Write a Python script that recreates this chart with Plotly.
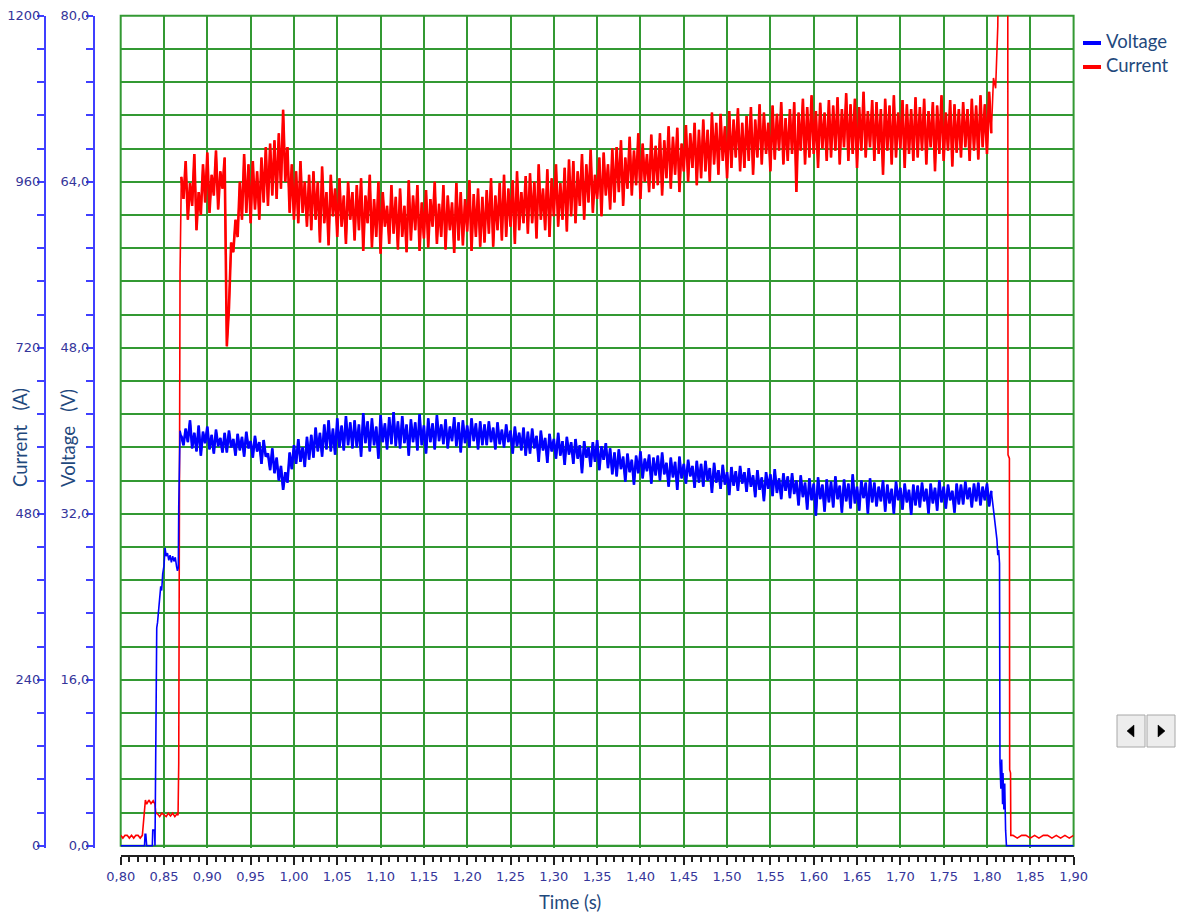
import plotly.graph_objects as go

W, H = 1179, 914


def px(x):
    return x / W


def py(y):
    return 1 - y / H


# ---------------- data ----------------
# start-up (before the arc is established)
voltage_pre_t = [0.800, 0.8275, 0.8281, 0.8290, 0.8300, 0.8365, 0.8370, 0.8390, 0.8396, 0.8404,
                 0.8416, 0.8425, 0.8434, 0.8446, 0.8455, 0.8462, 0.8473, 0.8485, 0.8500, 0.8512,
                 0.8525, 0.8540, 0.8555, 0.8570, 0.8585, 0.8600, 0.8615, 0.8630, 0.8645, 0.8655,
                 0.8665, 0.8670, 0.8685]
voltage_pre_v = [0.0, 0.0, 1.1, 1.1, 0.0, 0.0, 1.5, 1.5, 0.0, 11.9,
                 21.0, 21.5, 22.4, 23.6, 23.8, 25.0, 24.6, 26.2, 27.0, 28.7,
                 27.9, 28.2, 27.5, 28.0, 27.3, 27.9, 27.4, 27.8, 26.9, 26.5,
                 26.8, 32.6, 40.0]

current_pre_t = [0.800, 0.8025, 0.805, 0.8075, 0.810, 0.8125, 0.815, 0.8175, 0.820, 0.8225,
                 0.825, 0.8262, 0.8275, 0.8285, 0.830, 0.8325, 0.835, 0.8375, 0.8395, 0.8405,
                 0.8425, 0.845, 0.8475, 0.850, 0.8525, 0.855, 0.8575, 0.860, 0.8625, 0.865,
                 0.8662, 0.8670, 0.8685]
current_pre_i = [15, 11, 15, 15, 11, 15, 11, 15, 15, 11,
                 15, 36, 62, 66, 60, 66, 61, 65, 60, 47,
                 46, 42, 47, 45, 42, 47, 43, 47, 42, 46,
                 44, 120, 828]

# welding phase, sampled every 2.5 ms from 0.870 s (one row = 50 ms)
SAMPLE_T0 = 0.870
SAMPLE_DT = 0.0025

voltage_rows = [
    [39.5, 38.6, 40.2, 38.9, 41.0, 38.3, 39.8, 38.0, 40.5, 37.6, 39.9, 38.8, 40.4, 38.2, 39.6, 37.8, 40.1, 38.5, 39.3, 37.9],
    [39.8, 37.9, 40.0, 38.4, 39.2, 37.6, 39.7, 38.1, 39.4, 37.5, 39.9, 38.3, 39.0, 37.4, 39.5, 38.0, 38.9, 36.8, 39.1, 37.5],
    [37.8, 36.2, 38.3, 35.9, 37.4, 35.2, 36.6, 34.3, 36.0, 35.0, 37.9, 36.3, 38.6, 36.8, 39.2, 37.0, 38.4, 36.5, 39.4, 37.2],
    [39.6, 37.4, 40.3, 38.0, 39.8, 37.5, 40.6, 38.2, 41.0, 38.0, 40.2, 37.7, 41.2, 38.4, 40.5, 38.1, 41.4, 38.6, 40.8, 38.3],
    [41.0, 38.4, 40.6, 37.5, 41.7, 38.8, 40.9, 38.0, 41.2, 38.6, 40.4, 37.3, 41.5, 38.9, 40.7, 38.2, 41.3, 38.7, 41.8, 38.5],
    [40.9, 38.3, 41.4, 38.8, 40.6, 37.6, 41.1, 38.9, 40.8, 38.1, 41.6, 38.6, 40.5, 37.8, 41.2, 38.9, 40.7, 38.2, 41.5, 39.0],
    [40.6, 38.7, 41.1, 38.3, 40.4, 39.0, 41.3, 38.5, 40.8, 37.9, 41.0, 38.8, 40.5, 38.4, 41.2, 39.0, 40.7, 38.2, 40.9, 38.6],
    [40.6, 38.6, 40.9, 38.9, 40.3, 38.2, 40.8, 38.7, 40.1, 38.4, 40.6, 38.9, 40.0, 37.8, 40.4, 38.5, 39.8, 38.1, 40.3, 37.6],
    [39.9, 37.8, 40.2, 38.3, 39.5, 37.0, 40.0, 38.1, 39.3, 36.9, 39.7, 38.0, 39.2, 37.3, 39.8, 37.6, 39.0, 36.7, 39.4, 37.7],
    [38.9, 36.8, 39.2, 37.3, 38.6, 35.9, 39.0, 37.4, 38.4, 36.5, 38.9, 37.0, 39.1, 36.2, 38.5, 37.2, 38.8, 36.4, 38.3, 35.8],
    [37.9, 35.6, 38.2, 36.3, 37.5, 35.1, 37.8, 36.0, 37.2, 34.8, 37.6, 35.9, 38.0, 35.4, 37.3, 36.1, 37.7, 34.9, 37.4, 35.7],
    [37.6, 35.2, 37.9, 35.8, 36.9, 34.6, 37.4, 35.5, 37.0, 34.3, 37.5, 35.4, 36.8, 34.9, 37.2, 35.6, 36.6, 34.5, 37.1, 35.0],
    [36.8, 34.6, 37.1, 35.2, 36.4, 34.0, 36.9, 35.0, 36.2, 34.4, 36.7, 34.8, 36.0, 33.8, 36.5, 34.7, 36.1, 34.2, 36.6, 34.9],
    [36.0, 34.1, 36.4, 34.6, 35.7, 33.6, 36.2, 34.3, 35.5, 33.2, 36.0, 34.4, 35.8, 33.7, 36.3, 34.0, 35.4, 33.4, 35.9, 34.2],
    [35.6, 33.5, 35.9, 33.9, 35.2, 32.8, 35.7, 33.6, 35.0, 32.4, 35.4, 33.3, 34.9, 31.8, 35.5, 33.4, 34.8, 32.2, 35.3, 33.1],
    [35.1, 32.6, 35.6, 33.4, 34.7, 32.1, 35.3, 33.2, 34.9, 32.5, 35.8, 33.0, 34.6, 32.3, 35.2, 33.5, 35.0, 32.0, 35.4, 33.1],
    [35.0, 32.7, 34.6, 33.2, 35.2, 32.2, 34.8, 33.0, 34.4, 32.0, 35.1, 33.3, 34.5, 32.4, 34.9, 33.1, 34.3, 31.9, 34.8, 32.8],
    [34.7, 32.6, 35.0, 33.2, 34.4, 32.0, 34.9, 33.0, 34.5, 32.3, 35.2, 33.1, 34.6, 32.5, 34.8, 33.3, 34.2, 32.1, 34.9, 32.9],
    [34.8, 32.9, 35.1, 33.4, 34.5, 32.6, 34.9, 33.2, 35.0, 32.8, 34.6, 33.3, 34.9, 32.7, 34.2],
]

current_rows = [
    [967, 935, 990, 905, 958, 925, 1000, 890, 945, 912, 985, 930, 1002, 915, 970, 940, 1005, 920, 975, 950],
    [995, 722, 778, 872, 858, 905, 880, 960, 905, 1000, 915, 985, 900, 990, 920, 975, 905, 995, 930, 1010],
    [925, 1015, 940, 1020, 935, 1030, 950, 1064, 960, 1010, 915, 985, 905, 975, 900, 990, 915, 960, 895, 970],
    [890, 975, 905, 960, 872, 982, 900, 945, 868, 970, 910, 950, 880, 965, 895, 940, 870, 960, 905, 945],
    [875, 955, 890, 965, 860, 940, 900, 970, 865, 935, 880, 960, 856, 945, 895, 925, 870, 955, 885, 938],
    [862, 950, 880, 925, 858, 962, 875, 940, 890, 955, 860, 930, 878, 948, 865, 935, 895, 960, 870, 928],
    [880, 955, 862, 940, 890, 930, 857, 958, 875, 945, 868, 935, 888, 962, 860, 942, 880, 950, 866, 938],
    [872, 948, 885, 965, 866, 940, 890, 958, 875, 970, 880, 950, 895, 962, 870, 975, 890, 945, 900, 968],
    [885, 972, 900, 960, 878, 985, 905, 950, 890, 978, 880, 965, 910, 985, 895, 958, 905, 980, 888, 992],
    [910, 990, 900, 975, 925, 1000, 905, 985, 930, 1006, 915, 970, 935, 995, 910, 1002, 940, 985, 920, 1008],
    [930, 1010, 945, 1020, 925, 995, 950, 1025, 940, 1005, 955, 1030, 935, 1015, 960, 1000, 945, 1028, 950, 1012],
    [955, 1030, 940, 1020, 965, 1040, 950, 1025, 970, 1038, 945, 1015, 975, 1042, 960, 1030, 980, 1045, 955, 1035],
    [965, 1050, 975, 1035, 960, 1060, 985, 1045, 970, 1058, 990, 1040, 965, 1062, 980, 1050, 995, 1066, 975, 1045],
    [980, 1055, 990, 1068, 970, 1050, 995, 1072, 985, 1060, 1000, 1045, 975, 1070, 992, 1058, 1005, 1075, 985, 1052],
    [990, 1065, 1000, 1075, 945, 1060, 1005, 1080, 985, 1068, 995, 1085, 1000, 1062, 980, 1074, 1008, 1060, 990, 1078],
    [995, 1070, 1005, 1082, 985, 1065, 1010, 1088, 990, 1072, 1000, 1080, 980, 1068, 1005, 1090, 995, 1062, 1010, 1078],
    [990, 1075, 1000, 1065, 970, 1080, 1005, 1070, 985, 1085, 995, 1060, 1008, 1078, 980, 1072, 1000, 1065, 990, 1082],
    [995, 1068, 1005, 1080, 985, 1062, 1010, 1075, 975, 1070, 1000, 1085, 990, 1060, 1005, 1078, 982, 1072, 1002, 1065],
    [995, 1075, 1010, 1065, 990, 1080, 1005, 1070, 992, 1085, 1010, 1072, 1000, 1090, 1030],
]

# end of the weld (arc extinction)
voltage_post_t = [1.8075, 1.8100, 1.8115, 1.8125, 1.8135, 1.8145, 1.8150, 1.8160, 1.8170, 1.8180,
                  1.8185, 1.8195, 1.8205, 1.8215, 1.8225, 1.9000]
voltage_post_v = [32.5, 31.0, 29.5, 28.0, 28.5, 27.2, 8.0, 5.5, 8.3, 4.0,
                  7.0, 3.5, 6.0, 1.5, 0.0, 0.0]

current_post_t = [1.8075, 1.8100, 1.8115, 1.8125, 1.8135, 1.8175, 1.8215, 1.8240, 1.8243, 1.8259,
                  1.8262, 1.8272, 1.8275, 1.830, 1.835, 1.840, 1.845, 1.850, 1.855, 1.860,
                  1.865, 1.870, 1.875, 1.880, 1.885, 1.890, 1.895, 1.900]
current_post_i = [1110, 1095, 1150, 1185, 1330, 1320, 1310, 1300, 565, 560,
                  110, 105, 15, 15, 11, 15, 15, 11, 15, 11,
                  15, 15, 11, 15, 11, 15, 11, 15]

x_ticks_label_format = ".2f"

# ---------------- assemble series ----------------
voltage_noisy = [v for row in voltage_rows for v in row]
current_noisy = [c for row in current_rows for c in row]
t_noisy_v = [round(SAMPLE_T0 + k * SAMPLE_DT, 4) for k in range(len(voltage_noisy))]
t_noisy_c = [round(SAMPLE_T0 + k * SAMPLE_DT, 4) for k in range(len(current_noisy))]

t_voltage = voltage_pre_t + t_noisy_v + voltage_post_t
v_voltage = voltage_pre_v + voltage_noisy + voltage_post_v
t_current = current_pre_t + t_noisy_c + current_post_t
i_current = current_pre_i + current_noisy + current_post_i

GREEN = "#339933"
AXBLUE = "#3F3FFF"
TICKC = "#35359A"
TITLEC = "#1F497D"
BLUE = "#0000FF"
RED = "#FF0000"
TICKFONT = dict(family="DejaVu Sans", size=13, color=TICKC)
TITLEFONT = dict(family="Lato", size=18.5, color=TITLEC)

# vertical geometry: 0 .. 1200 A spans pixel rows 845.7 .. 15.7; a 2 px strip below
# zero is kept inside the plot so the zero-level trace is not clipped in half
Y_TOP_PX, Y_ZERO_PX, Y_BOTTOM_PX = 15.7, 845.7, 847.7
I_MAX, V_MAX = 1200, 80
i_min = -I_MAX * (Y_BOTTOM_PX - Y_ZERO_PX) / (Y_ZERO_PX - Y_TOP_PX)
v_min = i_min * V_MAX / I_MAX

fig = go.Figure()
# full records (thin)
fig.add_trace(go.Scatter(x=t_voltage, y=v_voltage, mode="lines", name="Voltage",
                         line=dict(color=BLUE, width=1.6), yaxis="y2"))
# dense arc phase drawn heavier, as in the recorder display
fig.add_trace(go.Scatter(x=t_noisy_v, y=voltage_noisy, mode="lines", name="Voltage",
                         line=dict(color=BLUE, width=2.6), yaxis="y2", showlegend=False))
fig.add_trace(go.Scatter(x=t_current, y=i_current, mode="lines", name="Current",
                         line=dict(color=RED, width=1.6), yaxis="y"))
fig.add_trace(go.Scatter(x=t_noisy_c, y=current_noisy, mode="lines", name="Current",
                         line=dict(color=RED, width=2.6), yaxis="y", showlegend=False))

fig.update_layout(
    width=W, height=H,
    margin=dict(l=0, r=0, t=0, b=0),
    paper_bgcolor="white", plot_bgcolor="white",
    separators=", ",
    showlegend=False,
    xaxis=dict(
        domain=[px(120.7), px(1073.6)], range=[0.8, 1.9],
        anchor="free", position=py(856),
        tickmode="linear", tick0=0.8, dtick=0.05, tickformat=x_ticks_label_format,
        showgrid=True, gridcolor=GREEN, gridwidth=2,
        showline=True, linecolor="#202020", linewidth=2,
        ticks="outside", ticklen=8, tickwidth=1.5, tickcolor="#202020",
        minor=dict(tick0=0.8, dtick=0.01, ticks="outside", ticklen=5, tickwidth=1.5,
                   tickcolor="#202020", showgrid=False),
        tickfont=TICKFONT, zeroline=False, automargin=False, fixedrange=True,
    ),
    yaxis=dict(
        domain=[py(Y_BOTTOM_PX), py(Y_TOP_PX)], range=[i_min, I_MAX],
        anchor="free", position=px(45), side="left",
        tickmode="linear", tick0=0, dtick=240, tickformat="d",
        showgrid=True, gridcolor=GREEN, gridwidth=2,
        showline=True, linecolor=AXBLUE, linewidth=2,
        ticks="outside", ticklen=7, tickwidth=2, tickcolor=AXBLUE,
        minor=dict(tick0=0, dtick=48, ticks="outside", ticklen=7, tickwidth=2,
                   tickcolor=AXBLUE, showgrid=True, gridcolor=GREEN, gridwidth=2),
        tickfont=TICKFONT, zeroline=False, automargin=False, fixedrange=True,
        ticklabelstandoff=-6,
    ),
    yaxis2=dict(
        overlaying="y", range=[v_min, V_MAX],
        anchor="free", position=px(94), side="left",
        tickmode="linear", tick0=0, dtick=16, tickformat=".1f",
        showgrid=False,
        showline=True, linecolor=AXBLUE, linewidth=2,
        ticks="outside", ticklen=7, tickwidth=2, tickcolor=AXBLUE,
        minor=dict(tick0=0, dtick=3.2, ticks="outside", ticklen=7, tickwidth=2,
                   tickcolor=AXBLUE, showgrid=False),
        tickfont=TICKFONT, zeroline=False, automargin=False, fixedrange=True,
        ticklabelstandoff=-6,
    ),
)

annotations = [
    dict(text="Current\u00a0\u00a0\u00a0(A)", x=px(20), y=py(438), xref="paper", yref="paper",
         textangle=-90, showarrow=False, font=TITLEFONT, xanchor="center", yanchor="middle"),
    dict(text="Voltage\u00a0\u00a0\u00a0(V)", x=px(68), y=py(438), xref="paper", yref="paper",
         textangle=-90, showarrow=False, font=TITLEFONT, xanchor="center", yanchor="middle"),
    dict(text="Time (s)", x=px(570), y=py(902), xref="paper", yref="paper",
         showarrow=False, font=TITLEFONT, xanchor="center", yanchor="middle"),
    dict(text="Voltage", x=px(1104), y=py(41), xref="paper", yref="paper",
         showarrow=False, font=TITLEFONT, xanchor="left", yanchor="middle"),
    dict(text="Current", x=px(1104), y=py(65), xref="paper", yref="paper",
         showarrow=False, font=TITLEFONT, xanchor="left", yanchor="middle"),
]

shapes = [
    # plot-area frame (outer grid lines)
    dict(type="rect", xref="x domain", yref="paper", x0=0, x1=1,
         y0=py(Y_ZERO_PX), y1=py(Y_TOP_PX),
         line=dict(color=GREEN, width=2), fillcolor="rgba(0,0,0,0)", layer="below"),
    dict(type="line", xref="paper", yref="paper", x0=px(1083), x1=px(1101), y0=py(43), y1=py(43),
         line=dict(color=BLUE, width=4)),
    dict(type="line", xref="paper", yref="paper", x0=px(1083), x1=px(1101), y0=py(67), y1=py(67),
         line=dict(color=RED, width=4)),
    # scroll buttons
    dict(type="rect", xref="paper", yref="paper", x0=px(1117), x1=px(1145), y0=py(747), y1=py(715),
         fillcolor="#EDEDED", line=dict(color="#A8A8A8", width=1)),
    dict(type="rect", xref="paper", yref="paper", x0=px(1147), x1=px(1175), y0=py(747), y1=py(715),
         fillcolor="#EDEDED", line=dict(color="#A8A8A8", width=1)),
    dict(type="path", xref="paper", yref="paper",
         path=f"M {px(1127)} {py(731)} L {px(1134)} {py(725)} L {px(1134)} {py(737)} Z",
         fillcolor="black", line=dict(color="black", width=0.5)),
    dict(type="path", xref="paper", yref="paper",
         path=f"M {px(1165)} {py(731)} L {px(1158)} {py(725)} L {px(1158)} {py(737)} Z",
         fillcolor="black", line=dict(color="black", width=0.5)),
]

fig.update_layout(annotations=annotations, shapes=shapes)

fig.write_html("out.html", config={"displayModeBar": False},
               post_script="document.body.style.margin='0';document.body.style.overflow='hidden';")
